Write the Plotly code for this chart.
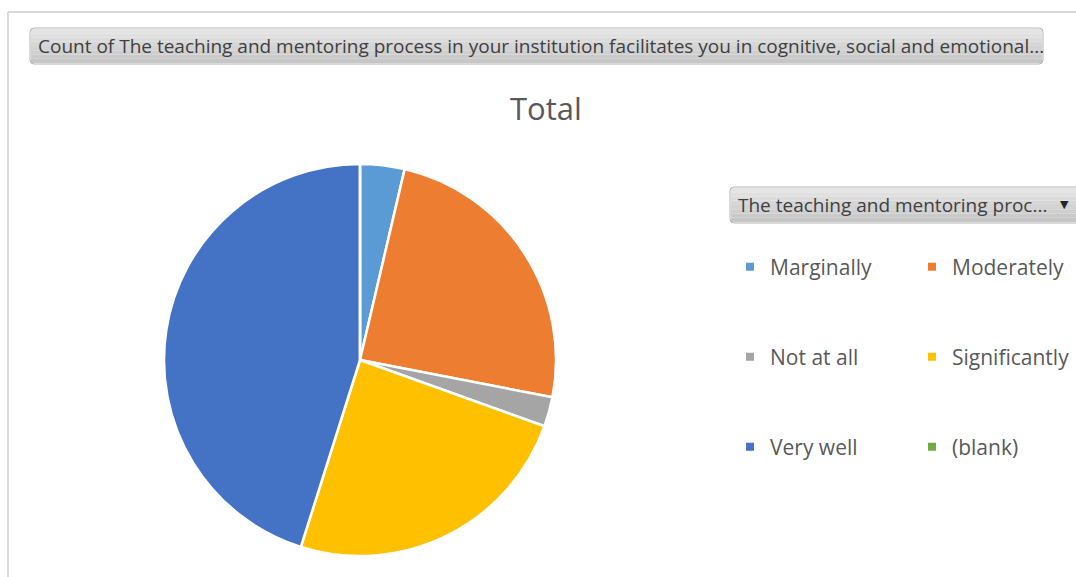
import plotly.graph_objects as go

# ---- data ----
categories = ["Marginally", "Moderately", "Not at all", "Significantly", "Very well", "(blank)"]
counts = [3, 20, 2, 20, 37, 0]
colors = ["#5B9BD5", "#ED7D31", "#A5A5A5", "#FFC000", "#4472C4", "#70AD47"]

W, H = 1076, 577
FONT = "Open Sans, Noto Sans, sans-serif"
TXT = "#595959"


def px(x):
    return x / W


def py(y):
    return 1 - y / H


def rrect(x0, y0, x1, y1, r=4):
    rx, ry = r / W, r / H
    X0, X1, Y0, Y1 = px(x0), px(x1), py(y0), py(y1)
    return (f"M {X0+rx},{Y0} L {X1-rx},{Y0} Q {X1},{Y0} {X1},{Y0-ry} "
            f"L {X1},{Y1+ry} Q {X1},{Y1} {X1-rx},{Y1} L {X0+rx},{Y1} "
            f"Q {X0},{Y1} {X0},{Y1+ry} L {X0},{Y0-ry} Q {X0},{Y0} {X0+rx},{Y0} Z")


fig = go.Figure()

# pie
cx, cy, R = 360, 360, 196
fig.add_trace(go.Pie(
    labels=categories, values=counts, sort=False, direction="clockwise", rotation=0,
    marker=dict(colors=colors, line=dict(color="white", width=2.5)),
    textinfo="none", hoverinfo="label+value+percent", showlegend=False,
    domain=dict(x=[px(cx - R), px(cx + R)], y=[py(cy + R), py(cy - R)]),
))

# legend entries (2 per row, 3 rows)
legend_names = ["legend", "legend2", "legend3"]
for i, (cat, col) in enumerate(zip(categories, colors)):
    fig.add_trace(go.Scatter(
        x=[None], y=[None], mode="markers", name=cat,
        marker=dict(symbol="square", size=8, color=col),
        legend=legend_names[i // 2], hoverinfo="skip",
    ))

row_y = [267, 357, 447]
leg_common = dict(orientation="h", xanchor="left", yanchor="middle",
                  font=dict(family=FONT, size=21, color=TXT),
                  bgcolor="rgba(0,0,0,0)", entrywidth=137, entrywidthmode="pixels",
                  itemclick=False, itemdoubleclick=False)
layout_legends = {}
for name, yy in zip(legend_names, row_y):
    layout_legends[name] = dict(x=px(730), y=py(yy), **leg_common)

shapes = []
shapes.append(dict(type="line", xref="paper", yref="paper", x0=px(8), x1=px(W + 5),
                   y0=py(12), y1=py(12), line=dict(color="#d9d9d9", width=2)))
shapes.append(dict(type="line", xref="paper", yref="paper", x0=px(8), x1=px(8),
                   y0=py(12), y1=py(H + 5), line=dict(color="#d9d9d9", width=2)))


def button(x0, y0, x1, y1):
    steps = 8
    top = (228, 228, 228)
    bot = (198, 198, 198)
    for k in range(steps):
        t = k / (steps - 1)
        c = tuple(int(round(top[j] + (bot[j] - top[j]) * t)) for j in range(3))
        ya = y0 + 1 + (y1 - y0 - 2) * k / steps
        yb = y0 + 1 + (y1 - y0 - 2) * (k + 1) / steps
        shapes.append(dict(type="rect", xref="paper", yref="paper",
                           x0=px(x0 + 1), x1=px(x1 - 1), y0=py(ya), y1=py(yb),
                           fillcolor=f"rgb{c}", line=dict(width=0), layer="below"))
    shapes.append(dict(type="path", xref="paper", yref="paper", path=rrect(x0, y0, x1, y1),
                       line=dict(color="#b4b4b4", width=1), fillcolor="rgba(0,0,0,0)"))


button(30, 28, 1043, 64)
button(730, 187, 1090, 223)

annotations = [
    dict(xref="paper", yref="paper", x=px(36), y=py(46), xanchor="left", yanchor="middle",
         text="Count of The teaching and mentoring process in your institution facilitates you in cognitive, social and emotional...",
         showarrow=False, font=dict(family=FONT, size=19, color="#404040")),
    dict(xref="paper", yref="paper", x=px(736), y=py(205), xanchor="left", yanchor="middle",
         text="The teaching and mentoring proc...",
         showarrow=False, font=dict(family=FONT, size=19, color="#404040")),
    dict(xref="paper", yref="paper", x=px(1064), y=py(204), xanchor="center", yanchor="middle",
         text="▼", showarrow=False, font=dict(family="DejaVu Sans", size=11, color="#262626")),
    dict(xref="paper", yref="paper", x=px(546), y=py(108), xanchor="center", yanchor="middle",
         text="Total", showarrow=False, font=dict(family=FONT, size=31, color=TXT)),
]

fig.update_layout(
    width=W, height=H, margin=dict(l=0, r=0, t=0, b=0, autoexpand=False),
    paper_bgcolor="white", plot_bgcolor="white",
    xaxis=dict(visible=False, range=[0, 1]), yaxis=dict(visible=False, range=[0, 1]),
    shapes=shapes, annotations=annotations,
    **layout_legends,
)

fig.write_html("out.html", config={"displayModeBar": False},
               post_script="document.body.style.margin='0';document.body.style.overflow='hidden';")
